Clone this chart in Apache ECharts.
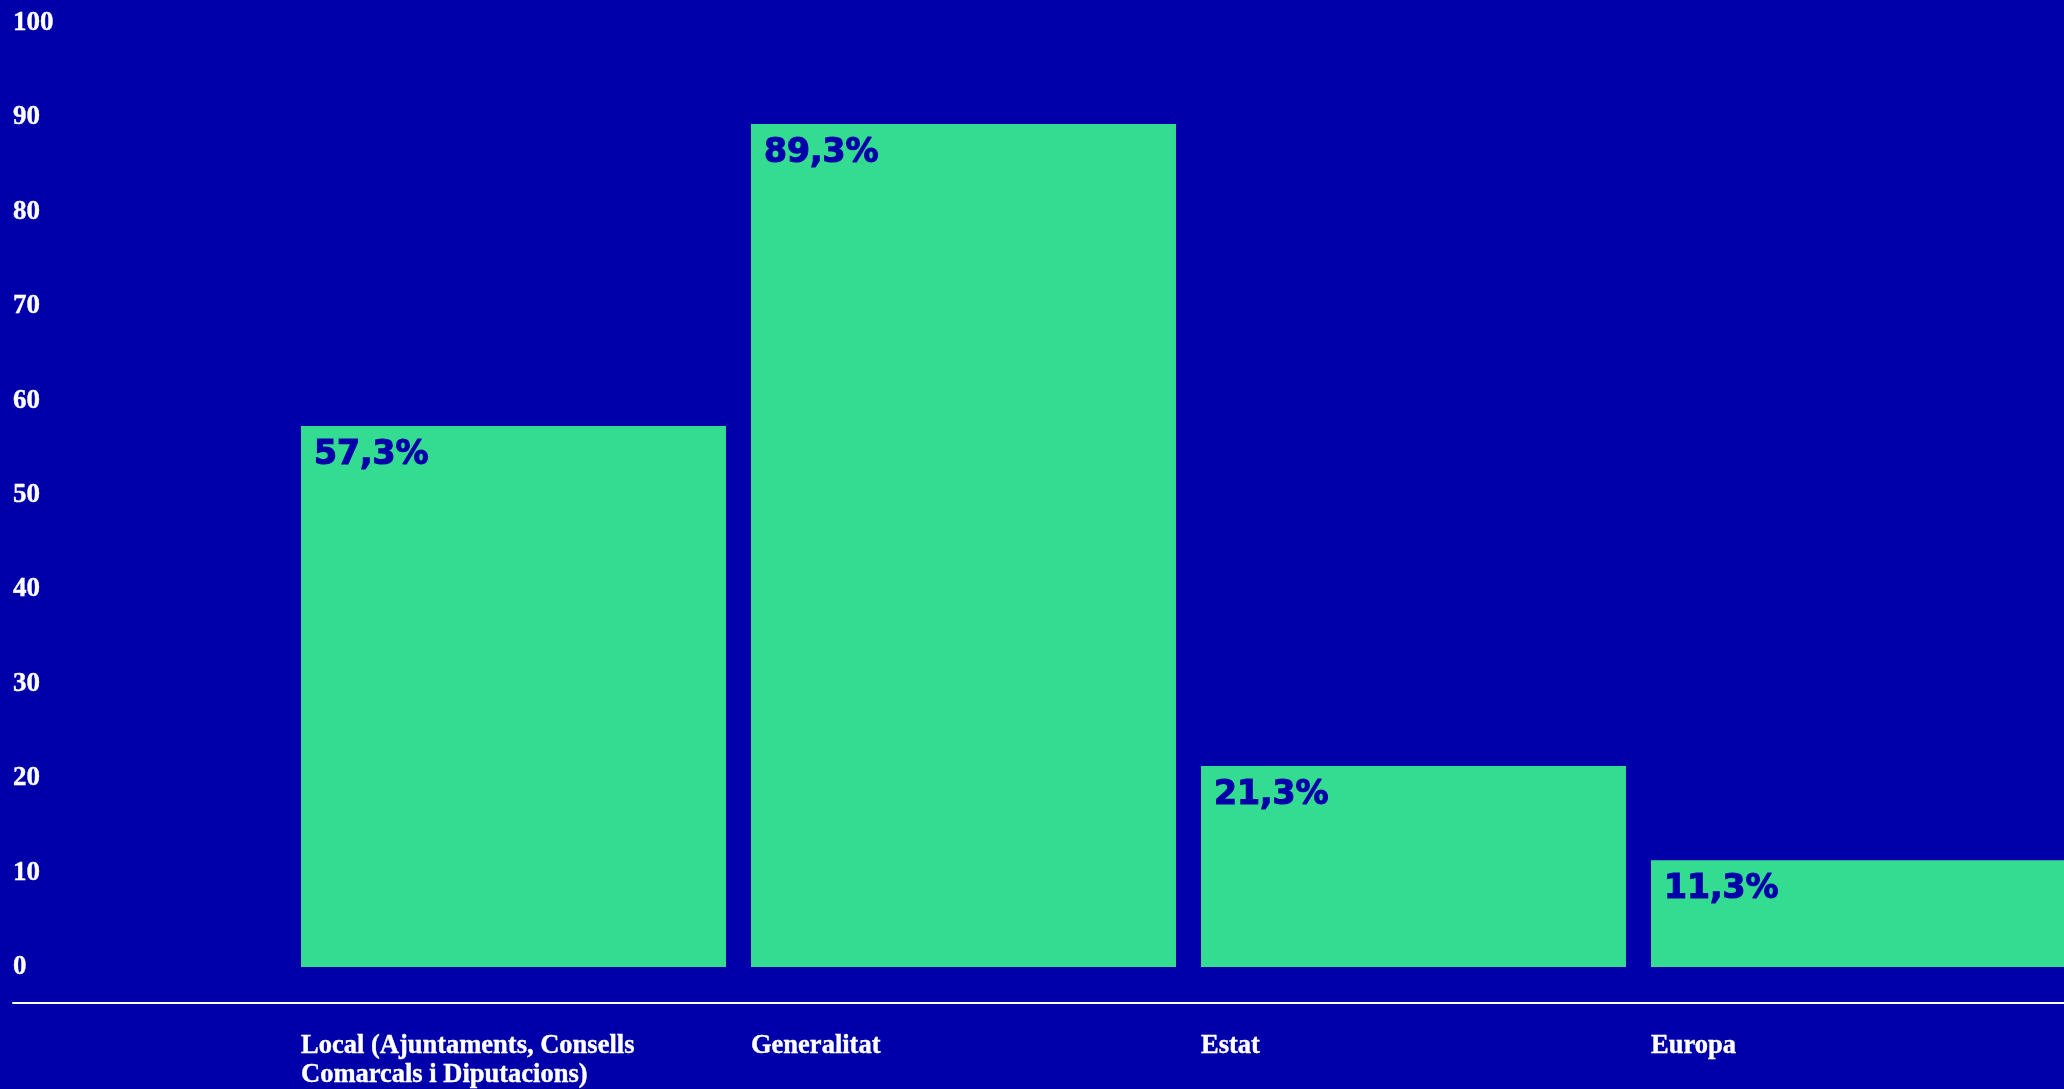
<!DOCTYPE html>
<html>
<head>
<meta charset="utf-8">
<script src="https://cdn.jsdelivr.net/npm/echarts@6/dist/echarts.min.js"></script>
<style>
  html, body { margin: 0; padding: 0; background: #0000AA; }
  #chart { width: 2064px; height: 1089px; }
</style>
</head>
<body>
<div id="chart"></div>
<script>
const categories = [
  'Local (Ajuntaments, Consells\nComarcals i Diputacions)',
  'Generalitat',
  'Estat',
  'Europa'
];
const values = [57.3, 89.3, 21.3, 11.3];
const yMin = 0;
const yMax = 100;
const yInterval = 10;

const BG = '#0000AA';
const GREEN = '#34DC91';

const chart = echarts.init(document.getElementById('chart'), null, { renderer: 'canvas' });

chart.setOption({
  backgroundColor: BG,
  animation: false,
  grid: [
    { left: 288.5, right: -24.5, top: 23, bottom: 122, outerBoundsMode: 'none', containLabel: false },
    { left: 13, right: 0, top: 1002, height: 1, outerBoundsMode: 'none', containLabel: false }
  ],
  xAxis: [
    {
      type: 'category',
      gridIndex: 0,
      data: categories,
      axisLine: { show: false },
      axisTick: { show: false },
      splitLine: { show: false },
      axisLabel: {
        interval: 0,
        margin: 65,
        width: 425,
        align: 'center',
        verticalAlign: 'top',
        formatter: function (v) {
          return v.split('\n').map(function (l) { return '{a|' + l + '}'; }).join('\n');
        },
        rich: {
          a: {
            align: 'left',
            color: '#FFFFFF',
            fontFamily: '"Liberation Serif", serif',
            fontWeight: 'bold',
            fontSize: 26.5,
            lineHeight: 29,
            textBorderColor: '#FFFFFF',
            textBorderWidth: 0.4
          }
        }
      }
    },
    {
      type: 'value',
      gridIndex: 1,
      min: 0,
      max: 1,
      axisLine: { show: true, lineStyle: { color: '#FFFFFF', width: 2 } },
      axisTick: { show: false },
      axisLabel: { show: false },
      splitLine: { show: false }
    }
  ],
  yAxis: [
    {
      type: 'value',
      gridIndex: 0,
      min: yMin,
      max: yMax,
      interval: yInterval,
      axisLine: { show: false },
      axisTick: { show: false },
      splitLine: { show: false },
      axisLabel: {
        align: 'left',
        margin: 275.5,
        color: '#FFFFFF',
        fontFamily: '"Liberation Serif", serif',
        fontWeight: 'bold',
        fontSize: 27,
        textBorderColor: '#FFFFFF',
        textBorderWidth: 0.4
      }
    },
    { type: 'value', gridIndex: 1, show: false }
  ],
  series: [
    {
      type: 'bar',
      xAxisIndex: 0,
      yAxisIndex: 0,
      data: values,
      barCategoryGap: '5.56%',
      itemStyle: { color: GREEN },
      label: {
        show: true,
        position: 'insideTopLeft',
        distance: 13,
        color: BG,
        fontFamily: '"DejaVu Sans", sans-serif',
        fontWeight: 'bold',
        fontSize: 33,
        textBorderColor: BG,
        textBorderWidth: 1.2,
        formatter: function (p) {
          return p.value.toFixed(1).replace('.', ',') + '%';
        }
      }
    }
  ]
});
</script>
</body>
</html>
